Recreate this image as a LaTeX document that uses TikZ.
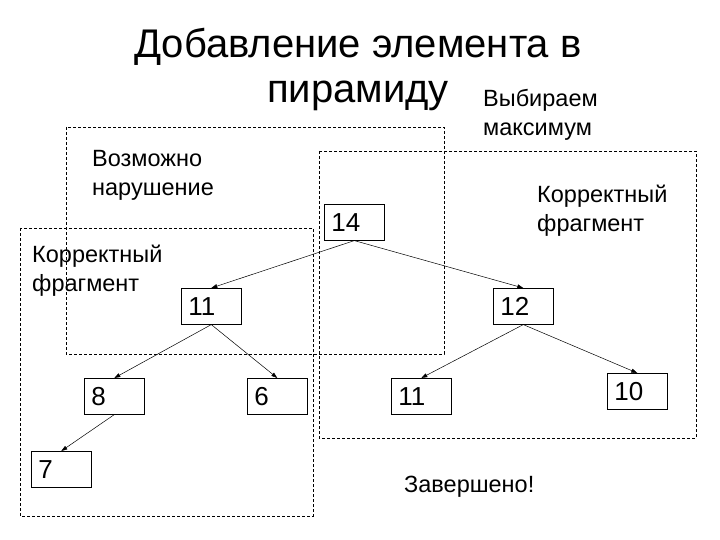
\documentclass[tikz,border=0pt]{standalone}
\usepackage{fontspec}
\setmainfont{Liberation Sans}
\usetikzlibrary{arrows.meta}
\begin{document}
\begin{tikzpicture}[x=1pt,y=-1pt,
  numbox/.style={draw=black, line width=0.6pt, anchor=north west, minimum height=36pt, text width=46pt, inner xsep=7pt, align=left, font=\fontsize{26}{30}\selectfont},
  lbl/.style={anchor=base west, inner sep=0pt, align=left, font=\fontsize{23.5}{29}\selectfont},
  frag/.style={draw=black, line width=0.6pt, dash pattern=on 3pt off 2pt},
  link/.style={draw=black, line width=0.5pt, -{Triangle[length=6pt,width=4pt]}}]
\useasboundingbox (0,0) rectangle (720,540);
% title (base = last line)
\node [anchor=base, inner sep=0pt, align=center, font=\fontsize{40}{45}\selectfont] (title) at (358,103) {Добавление элемента в\\пирамиду};
% dashed fragments
\draw [frag] (66,127) rectangle (444,354);
\draw [frag] (319,151) rectangle (696,438);
\draw [frag] (20,228) rectangle (313,516);
% labels (base = last line)
\node [lbl] (maxlbl) at (483,136) {Выбираем\\максимум};
\node [lbl] (violbl) at (92,196) {Возможно\\нарушение};
\node [lbl] (rightlbl) at (537,232) {Корректный\\фрагмент};
\node [lbl] (leftlbl) at (32,291) {Корректный\\фрагмент};
\node [lbl] (donelbl) at (404,492) {Завершено!};
% heap
\node [numbox] (n14) at (324,204) {14};
\node [numbox] (n11a) at (181,288) {11};
\node [numbox] (n12) at (493,288) {12};
\node [numbox] (n8) at (84,378) {8};
\node [numbox] (n6) at (247,378) {6};
\node [numbox] (n11b) at (391,378) {11};
\node [numbox] (n10) at (607,373) {10};
\node [numbox] (n7) at (31,451) {7};
\draw [link] (n14.south) -- (n11a.north);
\draw [link] (n14.south) -- (n12.north);
\draw [link] (n11a.south) -- (n8.north);
\draw [link] (n11a.south) -- (n6.north);
\draw [link] (n12.south) -- (n11b.north);
\draw [link] (n12.south) -- (n10.north);
\draw [link] (n8.south) -- (n7.north);
\end{tikzpicture}
\end{document}
